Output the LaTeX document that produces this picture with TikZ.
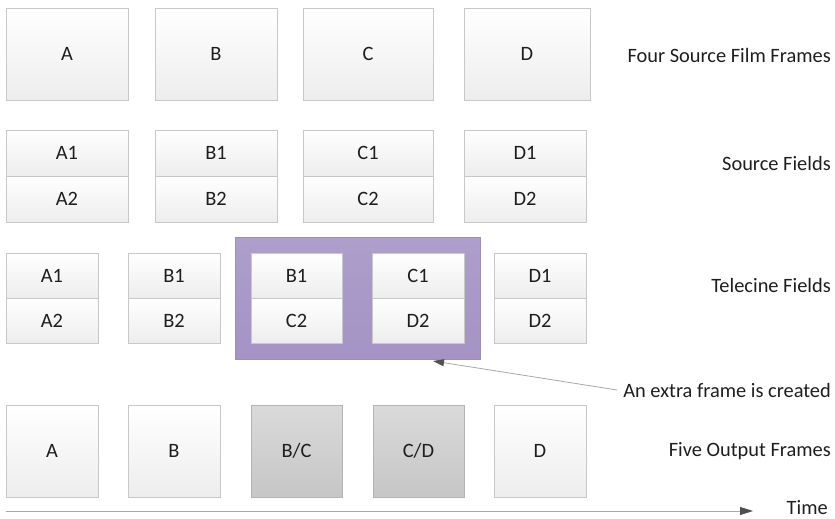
\documentclass[tikz,border=0pt]{standalone}
\usepackage{fontspec}
\setmainfont{Carlito}
\usetikzlibrary{arrows.meta}
\definecolor{boxline}{HTML}{C8C8C8}
\definecolor{boxtop}{HTML}{FFFFFF}
\definecolor{boxbot}{HTML}{EDEDED}
\definecolor{grayline}{HTML}{B4B4B4}
\definecolor{graytop}{HTML}{DADADA}
\definecolor{graybot}{HTML}{C6C6C6}
\definecolor{purp}{HTML}{AD9ECB}
\definecolor{purpbot}{HTML}{A493C4}
\definecolor{txt}{HTML}{1E1E1E}
\definecolor{arrline}{HTML}{A8A8A8}
\definecolor{arrtip}{HTML}{505050}
\tikzset{
  every node/.style={font=\fontsize{20.4}{24}\selectfont, text=txt},
  frame/.style={draw=boxline, line width=0.8pt, top color=boxtop, bottom color=boxbot,
    inner sep=0pt, outer sep=0pt, minimum height=#1},
  frame/.default=92pt,
  grayframe/.style={draw=grayline, line width=0.8pt, top color=graytop, bottom color=graybot,
    inner sep=0pt, outer sep=0pt, minimum height=92pt},
  rowlabel/.style={anchor=east, inner sep=0pt},
  connector/.style={draw=arrline, line width=0.8pt, -{Triangle[length=11pt,width=7pt,fill=arrtip,color=arrtip]}},
}
\begin{document}
\begin{tikzpicture}[x=1pt, y=-1pt]
\useasboundingbox (0,0) rectangle (835,519);
% Row 1: four source film frames
\node[frame, minimum width=122pt] (fa) at (67,54) {A};
\node[frame, minimum width=122pt] (fb) at (216,54) {B};
\node[frame, minimum width=130pt] (fc) at (368,54) {C};
\node[frame, minimum width=126pt] (fd) at (527,54) {D};
\node[rowlabel] (l1) at (831,55) {Four Source Film Frames};
% Row 2: source fields
\node[frame=46pt, minimum width=122pt] (sa1) at (67,153) {A1};
\node[frame=46pt, minimum width=122pt] (sa2) at (67,199) {A2};
\node[frame=46pt, minimum width=122pt] (sb1) at (216,153) {B1};
\node[frame=46pt, minimum width=122pt] (sb2) at (216,199) {B2};
\node[frame=46pt, minimum width=130pt] (sc1) at (368,153) {C1};
\node[frame=46pt, minimum width=130pt] (sc2) at (368,199) {C2};
\node[frame=46pt, minimum width=122pt] (sd1) at (525,153) {D1};
\node[frame=46pt, minimum width=122pt] (sd2) at (525,199) {D2};
\node[rowlabel] (l2) at (831,163) {Source Fields};
% Row 3: telecine fields
\node[draw=purp!90!black, line width=0.6pt, top color=purp, bottom color=purpbot,
  inner sep=0pt, minimum width=245pt, minimum height=122pt] (pbox) at (357.5,298) {};
\node[frame=45pt, minimum width=92pt] (ta1) at (52,275.5) {A1};
\node[frame=45pt, minimum width=92pt] (ta2) at (52,320.5) {A2};
\node[frame=45pt, minimum width=92pt] (tb1) at (174,275.5) {B1};
\node[frame=45pt, minimum width=92pt] (tb2) at (174,320.5) {B2};
\node[frame=45pt, minimum width=91pt] (tbc1) at (296.5,275.5) {B1};
\node[frame=45pt, minimum width=91pt] (tbc2) at (296.5,320.5) {C2};
\node[frame=45pt, minimum width=92pt] (tcd1) at (418,275.5) {C1};
\node[frame=45pt, minimum width=92pt] (tcd2) at (418,320.5) {D2};
\node[frame=45pt, minimum width=92pt] (td1) at (540,275.5) {D1};
\node[frame=45pt, minimum width=92pt] (td2) at (540,320.5) {D2};
\node[rowlabel] (l3) at (831,285) {Telecine Fields};
% Annotation
\node[rowlabel] (extra) at (831,390) {An extra frame is created};
\coordinate (extratip) at (433,361);
\draw[connector] ([xshift=-6pt]extra.west) -- (extratip);
% Row 4: five output frames
\node[frame, minimum width=92pt] (oa) at (52,451) {A};
\node[frame, minimum width=92pt] (ob) at (174,451) {B};
\node[grayframe, minimum width=91pt] (obc) at (296.5,451) {B/C};
\node[grayframe, minimum width=91pt] (ocd) at (418.5,451) {C/D};
\node[frame, minimum width=92pt] (od) at (540,451) {D};
\node[rowlabel] (l4) at (831,451) {Five Output Frames};
% Time axis
\coordinate (t0) at (6,511);
\coordinate (t1) at (753,511);
\draw[draw=arrline, line width=0.8pt, -{Triangle[length=13pt,width=8pt,fill=arrtip,color=arrtip]}] (t0) -- (t1);
\node[rowlabel] (time) at (828,508) {Time};
\end{tikzpicture}
\end{document}
